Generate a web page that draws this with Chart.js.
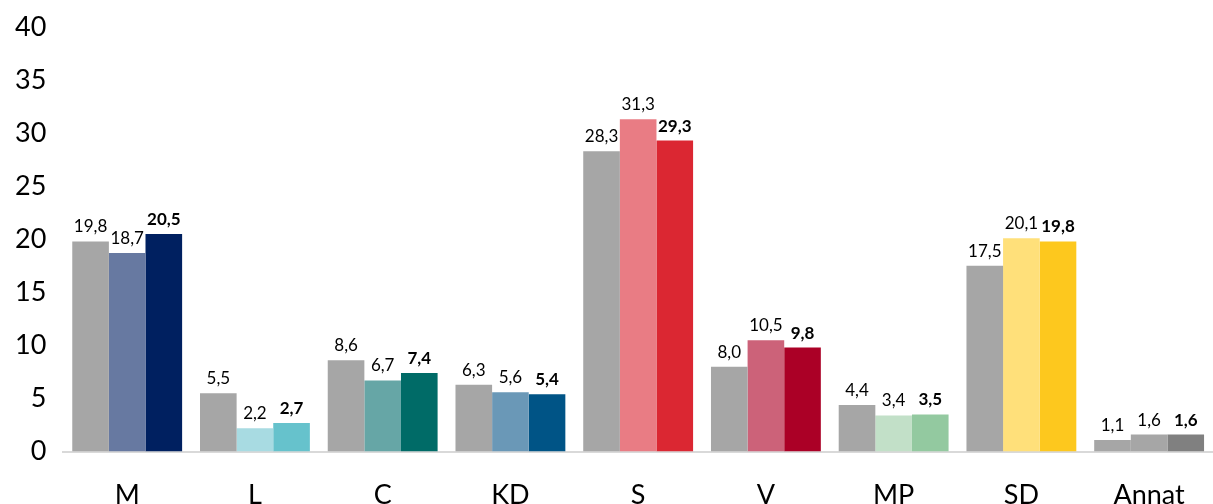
<!DOCTYPE html>
<html>
<head>
<meta charset="utf-8">
<script src="https://cdn.jsdelivr.net/npm/chart.js@4/dist/chart.umd.min.js"></script>
<style>
  html, body { margin: 0; padding: 0; background: #fff; }
  #wrap { width: 1213px; height: 504px; position: relative; }
</style>
</head>
<body>
<div id="wrap"><canvas id="grafico"></canvas></div>
<script>
// --- DATA ---
const categories = ["M", "L", "C", "KD", "S", "V", "MP", "SD", "Annat"];
const serie1 = [19.8, 5.5, 8.6, 6.3, 28.3, 8.0, 4.4, 17.5, 1.1];
const serie2 = [18.7, 2.2, 6.7, 5.6, 31.3, 10.5, 3.4, 20.1, 1.6];
const serie3 = [20.5, 2.7, 7.4, 5.4, 29.3, 9.8, 3.5, 19.8, 1.6];
const yTicks = [0, 5, 10, 15, 20, 25, 30, 35, 40];

const grayColors = ["#a6a6a6", "#a6a6a6", "#a6a6a6", "#a6a6a6", "#a6a6a6", "#a6a6a6", "#a6a6a6", "#a6a6a6", "#a6a6a6"];
const lightColors = ["#6779a1", "#a8dbe2", "#66a6a6", "#6a98b7", "#e97c84", "#cc6279", "#c2e0c8", "#ffe07a", "#a6a6a6"];
const darkColors = ["#002060", "#66c2cc", "#006b67", "#005486", "#db2732", "#ab0026", "#93c9a0", "#fdc81e", "#808080"];

const fontFam = "Lato, 'Noto Sans', sans-serif";

// etiquetas de valor encima de cada barra
const valueLabels = {
  id: "valueLabels",
  afterDatasetsDraw(chart) {
    const ctx = chart.ctx;
    ctx.save();
    ctx.fillStyle = "#000";
    ctx.textAlign = "center";
    ctx.textBaseline = "bottom";
    chart.data.datasets.forEach((ds, i) => {
      const meta = chart.getDatasetMeta(i);
      ctx.font = (i === 2 ? "bold " : "") + "17px " + fontFam;
      meta.data.forEach((bar, j) => {
        const txt = ds.data[j].toFixed(1).replace(".", ",");
        ctx.fillText(txt, bar.x, bar.y - 6);
      });
    });
    ctx.restore();
  }
};

const ctx = document.getElementById("grafico").getContext("2d");
new Chart(ctx, {
  type: "bar",
  data: {
    labels: categories,
    datasets: [
      { label: "1", data: serie1, backgroundColor: grayColors },
      { label: "2", data: serie2, backgroundColor: lightColors },
      { label: "3", data: serie3, backgroundColor: darkColors },
    ],
  },
  options: {
    responsive: true,
    maintainAspectRatio: false,
    animation: false,
    layout: { padding: { top: 0, right: 0, left: -2, bottom: -34 } },
    datasets: { bar: { categoryPercentage: 0.86, barPercentage: 1.0 } },
    plugins: { legend: { display: false }, tooltip: { enabled: false } },
    scales: {
      x: {
        grid: { display: false, drawTicks: false },
        border: { color: "#d9d9d9", width: 2 },
        ticks: { color: "#000", font: { family: fontFam, size: 27 }, padding: 27 },
      },
      y: {
        min: 0,
        max: 40,
        afterBuildTicks: (axis) => { axis.ticks = yTicks.map((v) => ({ value: v })); },
        afterFit: (axis) => { axis.paddingTop = 27; },
        grid: { display: false, drawTicks: false },
        border: { display: false },
        ticks: { color: "#000", font: { family: fontFam, size: 27 }, padding: 17 },
      },
    },
  },
  plugins: [valueLabels],
});
</script>
</body>
</html>
